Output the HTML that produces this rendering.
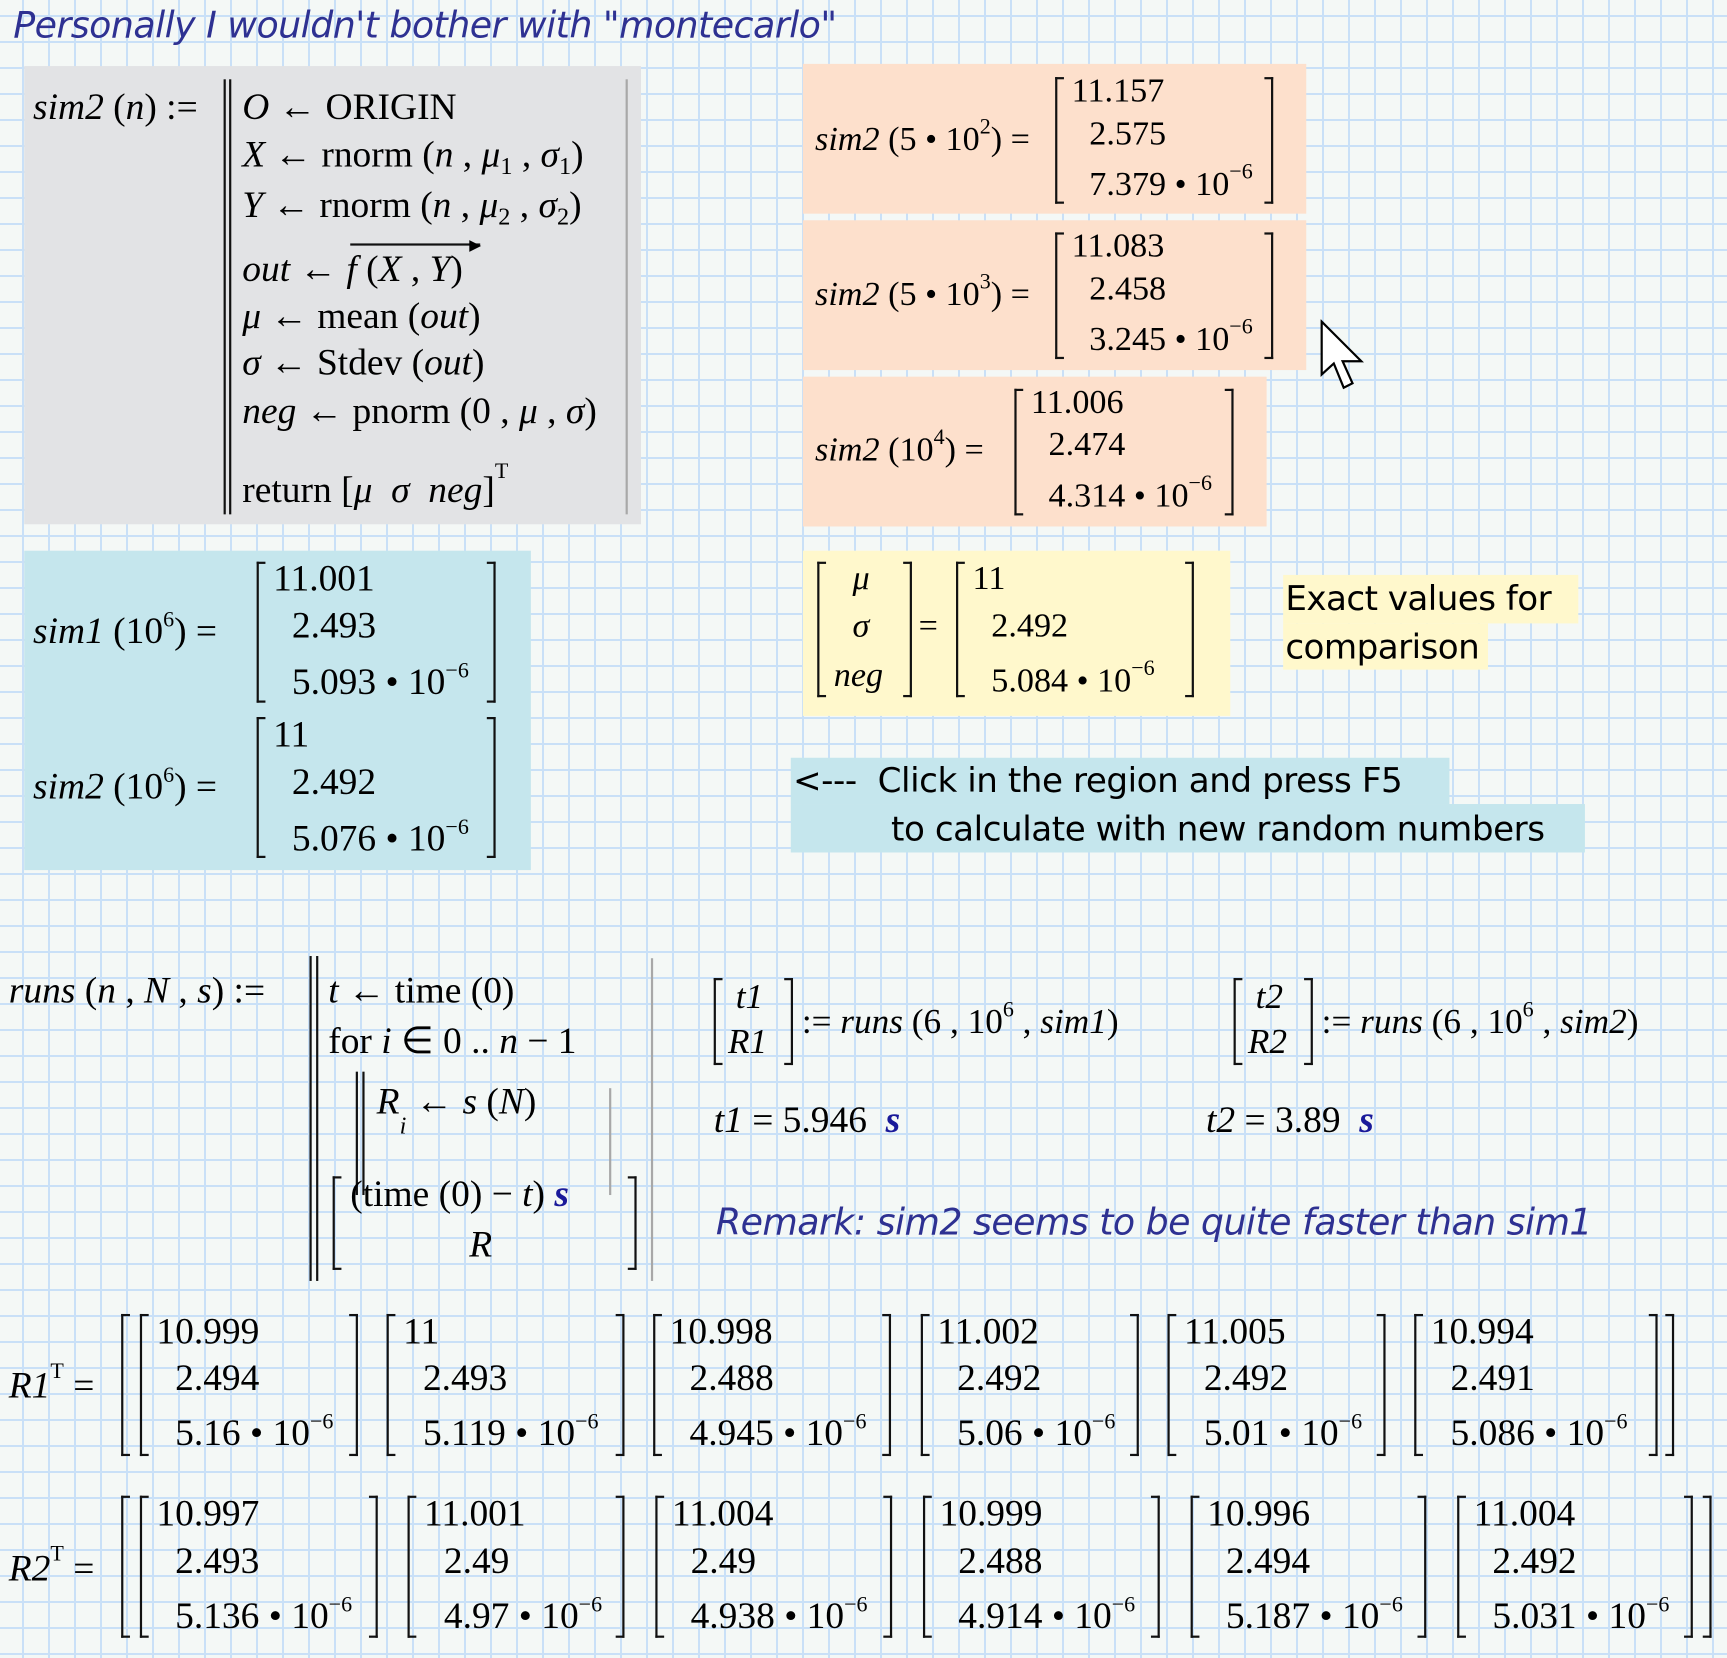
<!DOCTYPE html>
<html><head><meta charset="utf-8">
<style>
html,body{margin:0;padding:0}
body{width:1727px;height:1658px;overflow:hidden;background-color:#f4f8f6;
background-image:linear-gradient(to right,#c9e0f7 2px,transparent 2px),linear-gradient(to bottom,#c9e0f7 2px,transparent 2px);
background-size:26px 26px;background-position:22px 15px;}
#c{position:absolute;left:0;top:0;width:1568px;height:1505px;transform:scale(1.1014);transform-origin:0 0}
.b{position:absolute}
.t{position:absolute;font:34px/1 "Liberation Serif",serif;white-space:nowrap;color:#000;margin-top:-1px}
.x{font-size:20px;vertical-align:15px}
.sb{font-size:22px;vertical-align:-7px}
.lb{position:absolute;border:2.5px solid #111;border-right:0;width:8px;box-sizing:border-box}
.rb{position:absolute;border:2.5px solid #111;border-left:0;width:8px;box-sizing:border-box}
.bar{position:absolute;width:2px;background:#111}
.gbar{position:absolute;width:2px;background:#a8a8a8}
.sans{position:absolute;font:31px/1 "DejaVu Sans",sans-serif;white-space:nowrap;color:#000}
.bs{color:#1a1a9a;font-weight:bold;font-style:italic}
</style></head><body><div id="c">

<div class="b" style="left:12px;top:6px;font:italic 33px/1 'DejaVu Sans',sans-serif;color:#2e3192;white-space:nowrap;letter-spacing:-0.5px">Personally I wouldn't bother with "montecarlo"</div>

<!-- gray box -->
<div class="b" style="left:22px;top:60px;width:560px;height:416px;background:#e2e3e5"></div>
<div class="t" style="left:30px;top:82px"><i>sim2</i> (<i>n</i>) :=</div>
<div class="bar" style="left:203px;top:72px;height:395px"></div>
<div class="bar" style="left:208px;top:72px;height:395px"></div>
<div class="gbar" style="left:568px;top:72px;height:395px"></div>
<div class="t" style="left:220px;top:82px"><i>O</i> ← ORIGIN</div>
<div class="t" style="left:220px;top:125px"><i>X</i> ← rnorm (<i>n</i> , <i>μ</i><span class="sb">1</span> , <i>σ</i><span class="sb">1</span>)</div>
<div class="t" style="left:220px;top:171px"><i>Y</i> ← rnorm (<i>n</i> , <i>μ</i><span class="sb">2</span> , <i>σ</i><span class="sb">2</span>)</div>
<div class="t" style="left:220px;top:229px"><i>out</i> ← <i>f</i> (<i>X</i> , <i>Y</i>)</div>
<div class="b" style="left:318px;top:221px;width:118px;height:2px;background:#111"></div>
<div class="b" style="left:426px;top:216px;font:14px/1 'DejaVu Sans';">▶</div>
<div class="t" style="left:220px;top:272px"><i>μ</i> ← mean (<i>out</i>)</div>
<div class="t" style="left:220px;top:314px"><i>σ</i> ← Stdev (<i>out</i>)</div>
<div class="t" style="left:220px;top:358px"><i>neg</i> ← pnorm (0 , <i>μ</i> , <i>σ</i>)</div>
<div class="t" style="left:220px;top:419px">return [<i>μ</i>&nbsp; <i>σ</i> &nbsp;<i>neg</i>]<span class="x" style="vertical-align:22px">T</span></div>

<!-- orange boxes -->
<div class="b" style="left:729px;top:58px;width:457px;height:136px;background:#fde0cc"></div>
<div class="b" style="left:729px;top:200px;width:457px;height:136px;background:#fde0cc"></div>
<div class="b" style="left:729px;top:342px;width:421px;height:136px;background:#fde0cc"></div>

<div class="t" style="left:740px;top:106px;font-size:31px"><i>sim2</i> (5 • 10<span class="x">2</span>) =</div>
<div class="lb" style="left:958px;top:70px;height:115px"></div><div class="rb" style="left:1148px;top:70px;height:115px"></div>
<div class="t" style="left:973px;top:67px;font-size:31px">11.157</div>
<div class="t" style="left:989px;top:106px;font-size:31px">2.575</div>
<div class="t" style="left:989px;top:147px;font-size:31px">7.379 • 10<span class="x">−6</span></div>

<div class="t" style="left:740px;top:247px;font-size:31px"><i>sim2</i> (5 • 10<span class="x">3</span>) =</div>
<div class="lb" style="left:958px;top:211px;height:115px"></div><div class="rb" style="left:1148px;top:211px;height:115px"></div>
<div class="t" style="left:973px;top:208px;font-size:31px">11.083</div>
<div class="t" style="left:989px;top:247px;font-size:31px">2.458</div>
<div class="t" style="left:989px;top:288px;font-size:31px">3.245 • 10<span class="x">−6</span></div>

<div class="t" style="left:740px;top:388px;font-size:31px"><i>sim2</i> (10<span class="x">4</span>) =</div>
<div class="lb" style="left:921px;top:353px;height:115px"></div><div class="rb" style="left:1112px;top:353px;height:115px"></div>
<div class="t" style="left:936px;top:350px;font-size:31px">11.006</div>
<div class="t" style="left:952px;top:388px;font-size:31px">2.474</div>
<div class="t" style="left:952px;top:430px;font-size:31px">4.314 • 10<span class="x">−6</span></div>

<!-- cursor -->
<svg class="b" style="left:1198px;top:290px" width="46" height="70" viewBox="0 0 46 70">
<path d="M2 2 L2 50 L13 40 L22 62 L30 58 L21 38 L38 38 Z" fill="#fff" stroke="#000" stroke-width="2"/></svg>

<!-- yellow -->
<div class="b" style="left:729px;top:500px;width:388px;height:150px;background:#fff8cc"></div>
<div class="lb" style="left:742px;top:510px;height:123px"></div><div class="rb" style="left:820px;top:510px;height:123px"></div>
<div class="t" style="left:774px;top:510px;font-size:31px"><i>μ</i></div>
<div class="t" style="left:774px;top:553px;font-size:31px"><i>σ</i></div>
<div class="t" style="left:757px;top:598px;font-size:31px"><i>neg</i></div>
<div class="t" style="left:834px;top:553px;font-size:31px">=</div>
<div class="lb" style="left:868px;top:510px;height:123px"></div><div class="rb" style="left:1076px;top:510px;height:123px"></div>
<div class="t" style="left:883px;top:510px;font-size:31px">11</div>
<div class="t" style="left:900px;top:553px;font-size:31px">2.492</div>
<div class="t" style="left:900px;top:598px;font-size:31px">5.084 • 10<span class="x">−6</span></div>

<div class="b" style="left:1165px;top:522px;width:268px;height:44px;background:#fff8cc"></div>
<div class="b" style="left:1165px;top:566px;width:186px;height:42px;background:#fff8cc"></div>
<div class="sans" style="left:1167px;top:529px;letter-spacing:-0.5px">Exact values for</div>
<div class="sans" style="left:1167px;top:573px;letter-spacing:-0.5px">comparison</div>

<!-- blue left -->
<div class="b" style="left:22px;top:500px;width:460px;height:290px;background:#c5e6ed"></div>
<div class="t" style="left:30px;top:554px"><i>sim1</i> (10<span class="x">6</span>) =</div>
<div class="lb" style="left:233px;top:510px;height:128px"></div><div class="rb" style="left:442px;top:510px;height:128px"></div>
<div class="t" style="left:248px;top:510px">11.001</div>
<div class="t" style="left:265px;top:553px">2.493</div>
<div class="t" style="left:265px;top:600px">5.093 • 10<span class="x">−6</span></div>
<div class="t" style="left:30px;top:695px"><i>sim2</i> (10<span class="x">6</span>) =</div>
<div class="lb" style="left:233px;top:651px;height:128px"></div><div class="rb" style="left:442px;top:651px;height:128px"></div>
<div class="t" style="left:248px;top:652px">11</div>
<div class="t" style="left:265px;top:695px">2.492</div>
<div class="t" style="left:265px;top:742px">5.076 • 10<span class="x">−6</span></div>

<!-- blue note -->
<div class="b" style="left:718px;top:688px;width:598px;height:42px;background:#c5e6ed"></div>
<div class="b" style="left:718px;top:730px;width:721px;height:44px;background:#c5e6ed"></div>
<div class="sans" style="left:720px;top:694px;letter-spacing:-0.4px">&lt;---&nbsp; Click in the region and press F5</div>
<div class="sans" style="left:809px;top:738px;letter-spacing:-0.4px">to calculate with new random numbers</div>

<!-- runs -->
<div class="t" style="left:8px;top:884px"><i>runs</i> (<i>n</i> , <i>N</i> , <i>s</i>) :=</div>
<div class="bar" style="left:281px;top:868px;height:295px"></div>
<div class="bar" style="left:287px;top:868px;height:295px"></div>
<div class="gbar" style="left:591px;top:870px;height:293px"></div>
<div class="t" style="left:298px;top:884px"><i>t</i> ← time (0)</div>
<div class="t" style="left:298px;top:930px">for <i>i</i> ∈ 0 .. <i>n</i> − 1</div>
<div class="bar" style="left:323px;top:973px;height:112px"></div>
<div class="bar" style="left:329px;top:973px;height:112px"></div>
<div class="gbar" style="left:553px;top:988px;height:97px"></div>
<div class="t" style="left:342px;top:985px"><i>R</i><span class="sb" style="vertical-align:-18px"><i>i</i></span> ← <i>s</i> (<i>N</i>)</div>
<div class="lb" style="left:302px;top:1068px;height:85px"></div><div class="rb" style="left:570px;top:1068px;height:85px"></div>
<div class="t" style="left:318px;top:1069px">(time (0) − <i>t</i>) <span class="bs">s</span></div>
<div class="t" style="left:426px;top:1115px"><i>R</i></div>

<div class="lb" style="left:648px;top:888px;height:79px"></div><div class="rb" style="left:712px;top:888px;height:79px"></div>
<div class="t" style="left:668px;top:889px;font-size:32px"><i>t1</i></div>
<div class="t" style="left:661px;top:930px;font-size:32px"><i>R1</i></div>
<div class="t" style="left:728px;top:908px;font-size:32px">:= <i>runs</i> (6 , 10<span class="x">6</span> , <i>sim1</i>)</div>

<div class="lb" style="left:1120px;top:888px;height:79px"></div><div class="rb" style="left:1184px;top:888px;height:79px"></div>
<div class="t" style="left:1140px;top:889px;font-size:32px"><i>t2</i></div>
<div class="t" style="left:1133px;top:930px;font-size:32px"><i>R2</i></div>
<div class="t" style="left:1200px;top:908px;font-size:32px">:= <i>runs</i> (6 , 10<span class="x">6</span> , <i>sim2</i>)</div>

<div class="t" style="left:648px;top:1002px"><i>t1</i> = 5.946 &nbsp;<span class="bs">s</span></div>
<div class="t" style="left:1095px;top:1002px"><i>t2</i> = 3.89 &nbsp;<span class="bs">s</span></div>

<div class="b" style="left:650px;top:1093px;font:italic 33px/1 'DejaVu Sans',sans-serif;color:#2e3192;white-space:nowrap;letter-spacing:-0.5px">Remark: sim2 seems to be quite faster than sim1</div>

<!-- R1 -->
<div class="t" style="left:8px;top:1236px"><i>R1</i><span class="x" style="vertical-align:18px">T</span> =</div>
<div class="lb" style="left:110px;top:1193px;height:129px"></div><div class="rb" style="left:1512px;top:1193px;height:129px"></div>
<div class="lb" style="left:127px;top:1193px;height:129px"></div><div class="rb" style="left:317px;top:1193px;height:129px"></div>
<div class="lb" style="left:351px;top:1193px;height:129px"></div><div class="rb" style="left:559px;top:1193px;height:129px"></div>
<div class="lb" style="left:593px;top:1193px;height:129px"></div><div class="rb" style="left:801px;top:1193px;height:129px"></div>
<div class="lb" style="left:836px;top:1193px;height:129px"></div><div class="rb" style="left:1026px;top:1193px;height:129px"></div>
<div class="lb" style="left:1060px;top:1193px;height:129px"></div><div class="rb" style="left:1250px;top:1193px;height:129px"></div>
<div class="lb" style="left:1284px;top:1193px;height:129px"></div><div class="rb" style="left:1497px;top:1193px;height:129px"></div>

<div class="t" style="left:142px;top:1194px">10.999</div><div class="t" style="left:159px;top:1236px">2.494</div><div class="t" style="left:159px;top:1282px">5.16 • 10<span class="x">−6</span></div>
<div class="t" style="left:366px;top:1194px">11</div><div class="t" style="left:384px;top:1236px">2.493</div><div class="t" style="left:384px;top:1282px">5.119 • 10<span class="x">−6</span></div>
<div class="t" style="left:608px;top:1194px">10.998</div><div class="t" style="left:626px;top:1236px">2.488</div><div class="t" style="left:626px;top:1282px">4.945 • 10<span class="x">−6</span></div>
<div class="t" style="left:851px;top:1194px">11.002</div><div class="t" style="left:869px;top:1236px">2.492</div><div class="t" style="left:869px;top:1282px">5.06 • 10<span class="x">−6</span></div>
<div class="t" style="left:1075px;top:1194px">11.005</div><div class="t" style="left:1093px;top:1236px">2.492</div><div class="t" style="left:1093px;top:1282px">5.01 • 10<span class="x">−6</span></div>
<div class="t" style="left:1299px;top:1194px">10.994</div><div class="t" style="left:1317px;top:1236px">2.491</div><div class="t" style="left:1317px;top:1282px">5.086 • 10<span class="x">−6</span></div>

<!-- R2 -->
<div class="t" style="left:8px;top:1402px"><i>R2</i><span class="x" style="vertical-align:18px">T</span> =</div>
<div class="lb" style="left:110px;top:1358px;height:129px"></div><div class="rb" style="left:1546px;top:1358px;height:129px"></div>
<div class="lb" style="left:127px;top:1358px;height:129px"></div><div class="rb" style="left:335px;top:1358px;height:129px"></div>
<div class="lb" style="left:370px;top:1358px;height:129px"></div><div class="rb" style="left:559px;top:1358px;height:129px"></div>
<div class="lb" style="left:595px;top:1358px;height:129px"></div><div class="rb" style="left:802px;top:1358px;height:129px"></div>
<div class="lb" style="left:838px;top:1358px;height:129px"></div><div class="rb" style="left:1045px;top:1358px;height:129px"></div>
<div class="lb" style="left:1081px;top:1358px;height:129px"></div><div class="rb" style="left:1287px;top:1358px;height:129px"></div>
<div class="lb" style="left:1323px;top:1358px;height:129px"></div><div class="rb" style="left:1529px;top:1358px;height:129px"></div>

<div class="t" style="left:142px;top:1359px">10.997</div><div class="t" style="left:159px;top:1402px">2.493</div><div class="t" style="left:159px;top:1448px">5.136 • 10<span class="x">−6</span></div>
<div class="t" style="left:385px;top:1359px">11.001</div><div class="t" style="left:403px;top:1402px">2.49</div><div class="t" style="left:403px;top:1448px">4.97 • 10<span class="x">−6</span></div>
<div class="t" style="left:610px;top:1359px">11.004</div><div class="t" style="left:627px;top:1402px">2.49</div><div class="t" style="left:627px;top:1448px">4.938 • 10<span class="x">−6</span></div>
<div class="t" style="left:853px;top:1359px">10.999</div><div class="t" style="left:870px;top:1402px">2.488</div><div class="t" style="left:870px;top:1448px">4.914 • 10<span class="x">−6</span></div>
<div class="t" style="left:1096px;top:1359px">10.996</div><div class="t" style="left:1113px;top:1402px">2.494</div><div class="t" style="left:1113px;top:1448px">5.187 • 10<span class="x">−6</span></div>
<div class="t" style="left:1338px;top:1359px">11.004</div><div class="t" style="left:1355px;top:1402px">2.492</div><div class="t" style="left:1355px;top:1448px">5.031 • 10<span class="x">−6</span></div>

</div></body></html>
